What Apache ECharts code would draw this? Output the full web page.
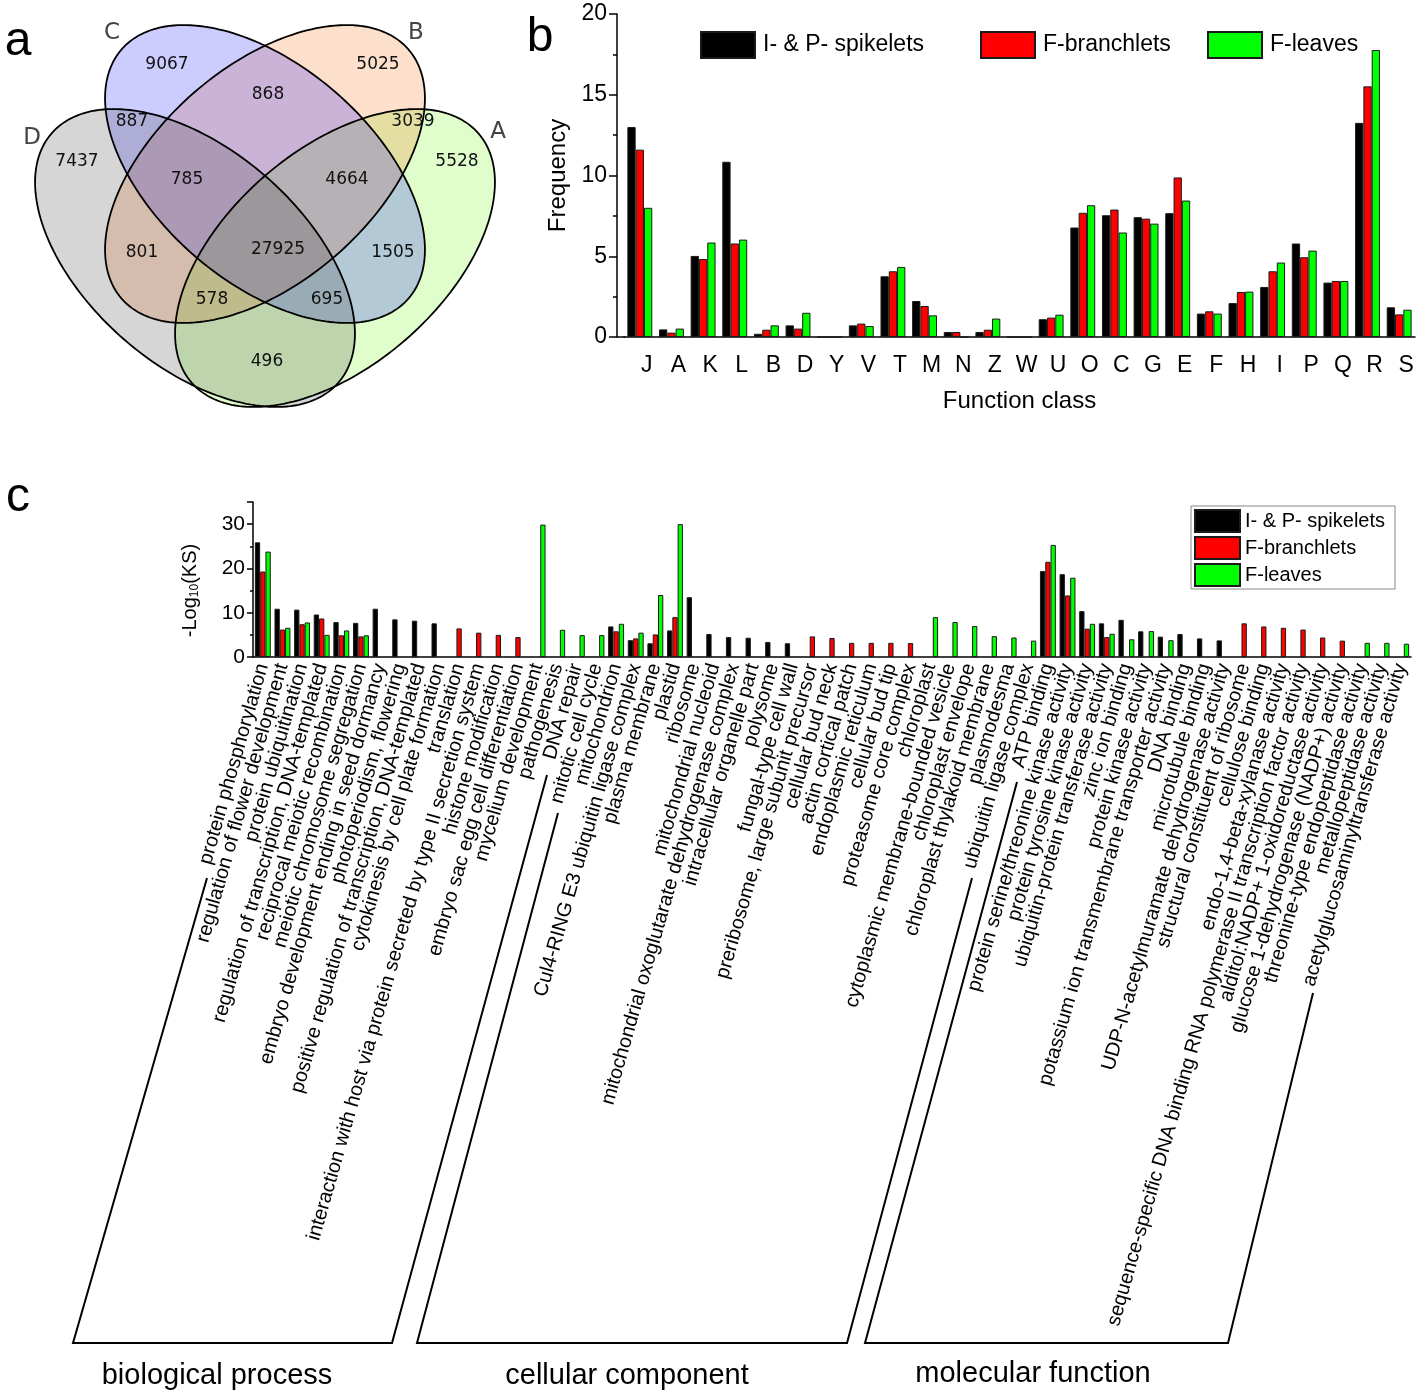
<!DOCTYPE html>
<html><head><meta charset="utf-8">
<script src="https://cdn.jsdelivr.net/npm/echarts@6/dist/echarts.min.js"></script>
<style>html,body{margin:0;padding:0;background:#fff}#c{width:1418px;height:1394px}</style>
</head><body><div id="c"></div>
<script>
// ---------------- DATA ----------------
const seriesNames = ['I- & P- spikelets', 'F-branchlets', 'F-leaves'];

// (a) Venn diagram
const vennSets = ['A', 'B', 'C', 'D'];
const vennCounts = [9067, 5025, 868, 887, 3039, 7437, 5528, 785, 4664, 801, 27925, 1505, 578, 695, 496];

// (b) COG function classes
const cogClasses = ['J','A','K','L','B','D','Y','V','T','M','N','Z','W','U','O','C','G','E','F','H','I','P','Q','R','S'];
const cogSpikelets  = [13.0,0.47,5.02,10.85,0.2,0.72,0,0.72,3.76,2.23,0.31,0.31,0,1.1,6.78,7.54,7.42,7.67,1.45,2.1,3.1,5.79,3.37,13.26,1.84];
const cogBranchlets = [11.6,0.27,4.83,5.79,0.45,0.52,0,0.83,4.07,1.92,0.31,0.45,0,1.2,7.69,7.89,7.33,9.88,1.59,2.79,4.07,4.94,3.47,15.52,1.4];
const cogLeaves     = [8.0,0.52,5.85,6.03,0.72,1.5,0,0.68,4.34,1.34,0,1.14,0,1.38,8.16,6.47,7.02,8.45,1.45,2.81,4.61,5.35,3.47,17.77,1.69];

// (c) GO terms
const goTerms = [
 'protein phosphorylation','regulation of flower development','protein ubiquitination',
 'regulation of transcription, DNA-templated','reciprocal meiotic recombination','meiotic chromosome segregation',
 'embryo development ending in seed dormancy','photoperiodism, flowering','positive regulation of transcription, DNA-templated',
 'cytokinesis by cell plate formation','translation','interaction with host via protein secreted by type II secretion system',
 'histone modification','embryo sac egg cell differentiation','mycelium development','pathogenesis','DNA repair',
 'mitotic cell cycle','mitochondrion','Cul4-RING E3 ubiquitin ligase complex','plasma membrane','plastid','ribosome',
 'mitochondrial nucleoid','mitochondrial oxoglutarate dehydrogenase complex','intracellular organelle part','polysome',
 'fungal-type cell wall','preribosome, large subunit precursor','cellular bud neck','actin cortical patch',
 'endoplasmic reticulum','cellular bud tip','proteasome core complex','chloroplast','cytoplasmic membrane-bounded vesicle',
 'chloroplast envelope','chloroplast thylakoid membrane','plasmodesma','ubiquitin ligase complex','ATP binding',
 'protein serine/threonine kinase activity','protein tyrosine kinase activity','ubiquitin-protein transferase activity',
 'zinc ion binding','protein kinase activity','potassium ion transmembrane transporter activity','DNA binding',
 'microtubule binding','UDP-N-acetylmuramate dehydrogenase activity','structural constituent of ribosome',
 'cellulose binding','endo-1,4-beta-xylanase activity',
 'sequence-specific DNA binding RNA polymerase II transcription factor activity',
 'alditol:NADP+ 1-oxidoreductase activity','glucose 1-dehydrogenase (NADP+) activity',
 'threonine-type endopeptidase activity','metallopeptidase activity','acetylglucosaminyltransferase activity'
];
const goSpikelets = [25.9,10.9,10.7,9.6,7.9,7.7,10.9,8.5,8.2,7.6,null,null,null,null,null,null,null,null,
 6.9,3.8,3.1,6.0,13.5,5.2,4.5,4.35,3.4,3.1,null,null,null,null,null,null,null,null,null,null,null,null,
 19.4,18.7,10.35,7.6,8.4,5.8,4.6,5.2,4.2,3.75,null,null,null,null,null,null,null,null,null];
const goBranchlets = [19.3,6.2,7.4,8.7,4.9,4.65,null,null,null,null,6.45,5.5,5.0,4.5,null,null,null,null,
 5.8,4.2,5.1,9.0,null,null,null,null,null,null,4.65,4.3,3.2,3.2,3.2,3.15,null,null,null,null,null,null,
 21.5,13.9,6.4,4.5,null,null,null,null,null,null,7.6,6.9,6.6,6.2,4.4,3.7,null,null,null];
const goLeaves = [23.8,6.6,7.8,5.0,6.0,4.9,null,null,null,null,null,null,null,null,29.9,6.15,4.95,4.95,
 7.5,5.5,14.0,30.0,null,null,null,null,null,null,null,null,null,null,null,null,9.0,7.9,7.0,4.7,4.4,3.7,
 25.3,17.9,7.5,5.25,4.0,5.85,3.8,null,null,null,null,null,null,null,null,null,3.2,3.2,3.0];
const goCategories = ['biological process', 'cellular component', 'molecular function'];

// ---------------- LAYOUT / STYLE ----------------
const FONT = '"Liberation Sans", Arial, Helvetica, sans-serif';
const colors = ['#000000', '#ff0000', '#00ff00'];
const vennLabelPos = [[167,65],[378,65],[268,95],[132,122],[413,122],[77,162],[457,162],[187,180],[347,180],
  [142,253],[278,250],[393,253],[212,300],[327,300],[267,362]];
const vennSetPos = {A:[498,132], B:[416,33], C:[112,33], D:[32,138]};
const vennShapes = {
  A: {cx:335, cy:258, a:190, b:108, ang:139, fill:'rgba(100,245,0,0.2)'},
  B: {cx:265, cy:174, a:190, b:108, ang:139, fill:'rgba(245,100,0,0.2)'},
  C: {cx:265, cy:174, a:190, b:108, ang:41,  fill:'rgba(0,0,255,0.2)'},
  D: {cx:195, cy:258, a:190, b:108, ang:41,  fill:'rgba(50,50,50,0.2)'}
};
function ellipsePoints(e) {
  const r = e.ang * Math.PI / 180, c = Math.cos(r), s = Math.sin(r), pts = [];
  for (let i = 0; i < 200; i++) {
    const t = i / 200 * 2 * Math.PI, u = e.a * Math.cos(t), v = e.b * Math.sin(t);
    pts.push([e.cx + u * c - v * s, e.cy + u * s + v * c]);
  }
  return pts;
}
const brackets = [
  [[207,878],[73,1343],[392,1343],[547,775]],
  [[558,813],[417,1343],[847,1343],[972,878]],
  [[1017,782],[865,1343],[1228,1343],[1313,993]]
];
const bracketLabelPos = [[217,1376],[627,1376],[1033,1374]];

const graphics = [];
[['a',18,42],['b',540,38],['c',18,498]].forEach(([t,x,y]) => graphics.push({
  type:'text', x, y, style:{text:t, fontSize:48, fontFamily:FONT, fill:'#000', align:'center', verticalAlign:'middle'}
}));
['A','B','C','D'].forEach(k => graphics.push({
  type:'polygon', shape:{points:ellipsePoints(vennShapes[k])},
  style:{fill:vennShapes[k].fill, stroke:null}
}));
['A','B','C','D'].forEach(k => graphics.push({
  type:'polygon', shape:{points:ellipsePoints(vennShapes[k])},
  style:{fill:null, stroke:'#000', lineWidth:1.8}
}));
vennCounts.forEach((v, i) => graphics.push({
  type:'text', x:vennLabelPos[i][0], y:vennLabelPos[i][1],
  style:{text:String(v), fontSize:17, fontFamily:'"DejaVu Sans", sans-serif', fill:'#111', align:'center', verticalAlign:'middle'}
}));
vennSets.forEach(k => graphics.push({
  type:'text', x:vennSetPos[k][0], y:vennSetPos[k][1],
  style:{text:k, fontSize:23, fontFamily:'"DejaVu Sans", sans-serif', fill:'#444', align:'center', verticalAlign:'middle'}
}));
brackets.forEach(p => graphics.push({
  type:'polyline', shape:{points:p}, style:{stroke:'#000', lineWidth:2, fill:null}
}));
goCategories.forEach((t, i) => graphics.push({
  type:'text', x:bracketLabelPos[i][0], y:bracketLabelPos[i][1],
  style:{text:t, fontSize:29, fontFamily:FONT, fill:'#000', align:'center', verticalAlign:'middle'}
}));
graphics.push({type:'line', shape:{x1:617, y1:337, x2:625, y2:337}, style:{stroke:'#000', lineWidth:1.5}});

const axisLineStyle = {color:'#000', width:1.5};
const option = {
  backgroundColor:'#fff',
  animation:false,
  textStyle:{fontFamily:FONT},
  grid:[
    {left:624, top:14, width:791, height:323},
    {left:253, top:502, width:1158, height:155}
  ],
  legend:[
    {data:[seriesNames[0]], left:700, top:31, padding:0, itemWidth:54, itemHeight:26, icon:'rect',
     textStyle:{fontSize:23, color:'#000', fontFamily:FONT, padding:[0,0,0,3]}},
    {data:[seriesNames[1]], left:980, top:31, padding:0, itemWidth:54, itemHeight:26, icon:'rect',
     textStyle:{fontSize:23, color:'#000', fontFamily:FONT, padding:[0,0,0,3]}},
    {data:[seriesNames[2]], left:1207, top:31, padding:0, itemWidth:54, itemHeight:26, icon:'rect',
     textStyle:{fontSize:23, color:'#000', fontFamily:FONT, padding:[0,0,0,3]}},
    {data:seriesNames, orient:'vertical', left:1191, top:506, padding:[3,10,2,3], itemGap:3,
     itemWidth:45, itemHeight:22, icon:'rect', borderColor:'#888', borderWidth:1,
     textStyle:{fontSize:20, color:'#000', fontFamily:FONT}}
  ],
  xAxis:[
    {type:'category', gridIndex:0, data:cogClasses,
     axisLine:{lineStyle:axisLineStyle},
     axisTick:{alignWithLabel:true, interval:0, length:8, lineStyle:axisLineStyle},
     axisLabel:{interval:0, fontSize:23, color:'#000', margin:17, padding:[0,0,0,14], fontFamily:FONT},
     name:'Function class', nameLocation:'middle', nameGap:52,
     nameTextStyle:{fontSize:24, color:'#000', fontFamily:FONT}},
    {type:'category', gridIndex:1, data:goTerms,
     axisLine:{lineStyle:axisLineStyle},
     axisTick:{alignWithLabel:true, interval:0, length:5, lineStyle:axisLineStyle},
     axisLabel:{interval:0, rotate:74, fontSize:20, color:'#000', margin:7, fontFamily:FONT}}
  ],
  yAxis:[
    {type:'value', gridIndex:0, min:0, max:20, interval:5, offset:7,
     axisLine:{show:true, lineStyle:axisLineStyle},
     axisTick:{show:true, length:8, lineStyle:axisLineStyle},
     minorTick:{show:true, splitNumber:2, length:4, lineStyle:{color:'#000', width:1.5}},
     splitLine:{show:false},
     axisLabel:{fontSize:23, color:'#000', margin:10, fontFamily:FONT},
     name:'Frequency', nameLocation:'middle', nameGap:45,
     nameTextStyle:{fontSize:24, color:'#000', fontFamily:FONT}},
    {type:'value', gridIndex:1, min:0, max:35, interval:10,
     axisLine:{show:true, lineStyle:axisLineStyle},
     axisTick:{show:true, length:6, lineStyle:axisLineStyle},
     minorTick:{show:true, splitNumber:2, length:3, lineStyle:{color:'#000', width:1.5}},
     splitLine:{show:false},
     axisLabel:{fontSize:21, color:'#000', margin:8, fontFamily:FONT, showMaxLabel:false},
     name:'-Log{sub|10}(KS)', nameLocation:'middle', nameGap:52,
     nameTextStyle:{fontSize:20, color:'#000', fontFamily:FONT, padding:[0,22,0,0],
       rich:{sub:{fontSize:12, fontFamily:FONT, color:'#000', padding:[10,0,0,0]}}}}
  ],
  series:[
    ...[cogSpikelets, cogBranchlets, cogLeaves].map((d, i) => ({
      type:'bar', name:seriesNames[i], xAxisIndex:0, yAxisIndex:0, data:d,
      barWidth:8.3, barGap:'0%',
      itemStyle:{color:colors[i], borderColor:'#1a1a1a', borderWidth:1}
    })),
    ...[goSpikelets, goBranchlets, goLeaves].map((d, i) => ({
      type:'bar', name:seriesNames[i], xAxisIndex:1, yAxisIndex:1, data:d,
      barWidth:5.3, barGap:'0%',
      itemStyle:{color:colors[i], borderColor:'#1a1a1a', borderWidth:1}
    }))
  ],
  graphic:graphics
};
const chart = echarts.init(document.getElementById('c'), null, {renderer:'canvas'});
chart.setOption(option);
</script>
</body></html>
